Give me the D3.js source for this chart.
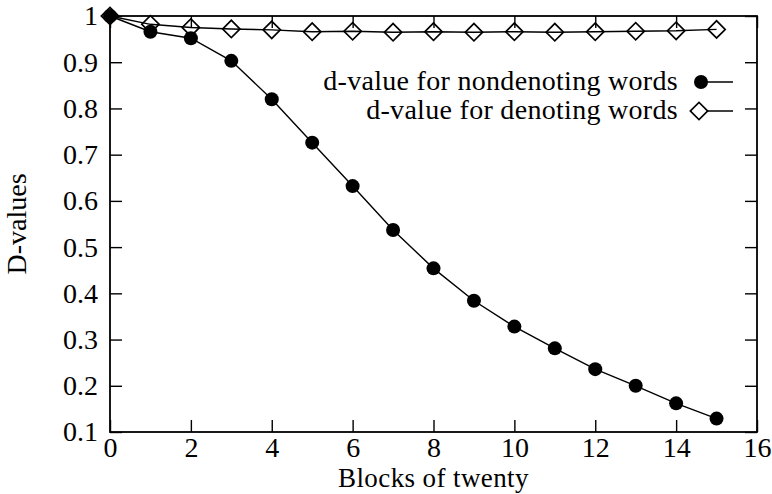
<!DOCTYPE html>
<html>
<head>
<meta charset="utf-8">
<script src="https://cdn.jsdelivr.net/npm/d3@7"></script>
<style>
  body { margin: 0; background: #fff; }
  svg text { font-family: "Liberation Serif", "DejaVu Serif", serif; fill: #000; }
</style>
</head>
<body>
<svg id="chart" width="772" height="494"></svg>
<script>
const blocks = [0, 1, 2, 3, 4, 5, 6, 7, 8, 9, 10, 11, 12, 13, 14, 15]
const nondenoting = [1, 0.966, 0.952, 0.903, 0.820, 0.726, 0.632, 0.537, 0.454, 0.384, 0.328, 0.281, 0.236, 0.200, 0.162, 0.129]
const denoting = [1, 0.982, 0.975, 0.972, 0.970, 0.966, 0.967, 0.965, 0.966, 0.965, 0.966, 0.965, 0.966, 0.967, 0.968, 0.971]
const xTicks = [0, 2, 4, 6, 8, 10, 12, 14, 16]
const yTicks = [0.1, 0.2, 0.3, 0.4, 0.5, 0.6, 0.7, 0.8, 0.9, 1]
const seriesNames = ['d-value for nondenoting words', 'd-value for denoting words']

const plotLeft = 110
const plotRight = 757
const plotTop = 16
const plotBottom = 432
const fontSize = 28
const tick = 12

const svg = d3.select('#chart')
const x = d3.scaleLinear().domain([0, 16]).range([plotLeft, plotRight])
const y = d3.scaleLinear().domain([0.1, 1]).range([plotBottom, plotTop])
const fmt = d3.format('~g')

// axes: ticks point inward, mirrored on top and right
function styleAxis (g) {
  g.select('.domain').remove()
  g.selectAll('line').attr('stroke', '#000').attr('stroke-width', 1.4)
  g.selectAll('text').attr('font-size', fontSize).attr('font-family', '"Liberation Serif", serif')
}
svg.append('g').attr('transform', `translate(0,${plotBottom})`)
  .call(d3.axisBottom(x).tickValues(xTicks).tickFormat(fmt).tickSize(-tick).tickPadding(5))
  .call(styleAxis)
svg.append('g').attr('transform', `translate(0,${plotTop})`)
  .call(d3.axisTop(x).tickValues(xTicks).tickFormat('').tickSize(-tick))
  .call(styleAxis)
svg.append('g').attr('transform', `translate(${plotLeft},0)`)
  .call(d3.axisLeft(y).tickValues(yTicks).tickFormat(fmt).tickSize(-tick).tickPadding(12))
  .call(styleAxis)
svg.append('g').attr('transform', `translate(${plotRight},0)`)
  .call(d3.axisRight(y).tickValues(yTicks).tickFormat('').tickSize(-tick))
  .call(styleAxis)

svg.append('rect')
  .attr('x', plotLeft).attr('y', plotTop)
  .attr('width', plotRight - plotLeft).attr('height', plotBottom - plotTop)
  .attr('fill', 'none').attr('stroke', '#000').attr('stroke-width', 1.8)

// axis titles
svg.append('text')
  .attr('x', (plotLeft + plotRight) / 2).attr('y', 487)
  .attr('text-anchor', 'middle').attr('font-size', 27)
  .attr('letter-spacing', 0.4)
  .text('Blocks of twenty')
svg.append('text')
  .attr('transform', `translate(26,${(plotTop + plotBottom) / 2}) rotate(-90)`)
  .attr('text-anchor', 'middle').attr('font-size', fontSize)
  .text('D-values')

const line = d3.line().x((d, i) => x(blocks[i])).y(d => y(d))
const diamond = d3.symbol().type(d3.symbolSquare).size(150)

// denoting words: open diamonds
svg.append('path').datum(denoting)
  .attr('d', line).attr('fill', 'none').attr('stroke', '#000').attr('stroke-width', 1.4)
svg.selectAll('.dia').data(denoting).enter().append('path')
  .attr('class', 'dia')
  .attr('d', diamond)
  .attr('transform', (d, i) => `translate(${x(blocks[i])},${y(d)}) rotate(45)`)
  .attr('fill', 'none').attr('stroke', '#000').attr('stroke-width', 1.7)

// nondenoting words: filled circles
svg.append('path').datum(nondenoting)
  .attr('d', line).attr('fill', 'none').attr('stroke', '#000').attr('stroke-width', 1.4)
svg.selectAll('.dot').data(nondenoting).enter().append('circle')
  .attr('class', 'dot')
  .attr('cx', (d, i) => x(blocks[i])).attr('cy', d => y(d))
  .attr('r', 7).attr('fill', '#000')

// legend
const legendY = [82, 111]
const legend = svg.selectAll('.leg').data(seriesNames).enter().append('g')
  .attr('class', 'leg')
  .attr('transform', (d, i) => `translate(0,${legendY[i]})`)
legend.append('text')
  .attr('x', 678).attr('y', 8)
  .attr('text-anchor', 'end').attr('font-size', fontSize)
  .attr('letter-spacing', 0.3)
  .text(d => d)
legend.append('line')
  .attr('x1', 700).attr('x2', 733)
  .attr('stroke', '#000').attr('stroke-width', 1.4)
legend.filter((d, i) => i === 0).append('circle')
  .attr('cx', 701).attr('r', 7).attr('fill', '#000')
legend.filter((d, i) => i === 1).append('path')
  .attr('d', diamond)
  .attr('transform', 'translate(699,0) rotate(45)')
  .attr('fill', '#fff').attr('stroke', '#000').attr('stroke-width', 1.7)
</script>
</body>
</html>
